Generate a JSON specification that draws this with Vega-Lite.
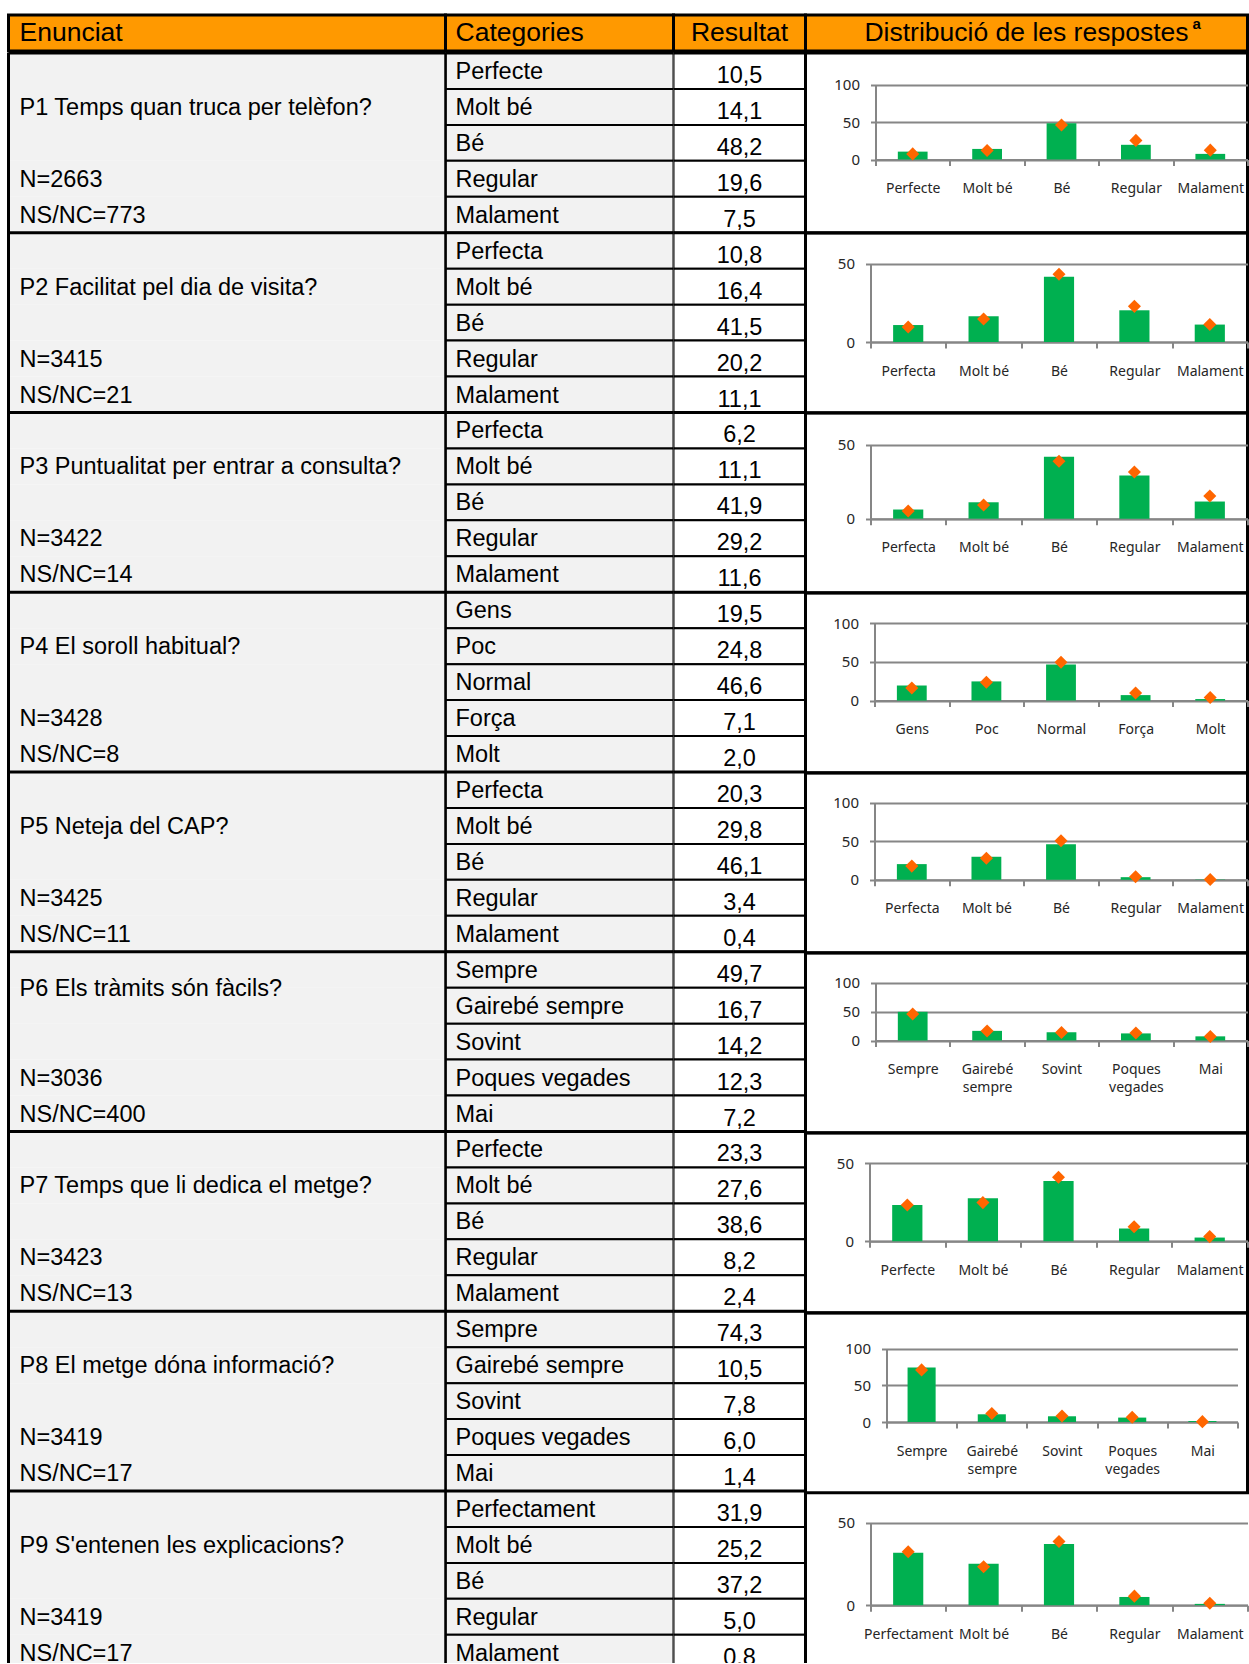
{
  "$schema": "https://vega.github.io/schema/vega-lite/v6.json",
  "background": "white",
  "padding": {"left": 6.5, "top": 13, "right": 0, "bottom": 0},
  "spacing": -3,
  "bounds": "full",
  "datasets": {
    "rows": [
      {"q":"P1","pos":1,"row":1,"cat":"Perfecte","val":10.5,"ref":7.5,"left":""},
      {"q":"P1","pos":2,"row":2,"cat":"Molt bé","val":14.1,"ref":12.0,"left":"P1 Temps quan truca per telèfon?"},
      {"q":"P1","pos":3,"row":3,"cat":"Bé","val":48.2,"ref":46.0,"left":""},
      {"q":"P1","pos":4,"row":4,"cat":"Regular","val":19.6,"ref":25.5,"left":"N=2663"},
      {"q":"P1","pos":5,"row":5,"cat":"Malament","val":7.5,"ref":12.5,"left":"NS/NC=773"},
      {"q":"P2","pos":1,"row":6,"cat":"Perfecta","val":10.8,"ref":9.5,"left":""},
      {"q":"P2","pos":2,"row":7,"cat":"Molt bé","val":16.4,"ref":14.6,"left":"P2 Facilitat pel dia de visita?"},
      {"q":"P2","pos":3,"row":8,"cat":"Bé","val":41.5,"ref":43.2,"left":""},
      {"q":"P2","pos":4,"row":9,"cat":"Regular","val":20.2,"ref":22.7,"left":"N=3415"},
      {"q":"P2","pos":5,"row":10,"cat":"Malament","val":11.1,"ref":11.2,"left":"NS/NC=21"},
      {"q":"P3","pos":1,"row":11,"cat":"Perfecta","val":6.2,"ref":5.2,"left":""},
      {"q":"P3","pos":2,"row":12,"cat":"Molt bé","val":11.1,"ref":9.2,"left":"P3 Puntualitat per entrar a consulta?"},
      {"q":"P3","pos":3,"row":13,"cat":"Bé","val":41.9,"ref":38.8,"left":""},
      {"q":"P3","pos":4,"row":14,"cat":"Regular","val":29.2,"ref":31.6,"left":"N=3422"},
      {"q":"P3","pos":5,"row":15,"cat":"Malament","val":11.6,"ref":15.4,"left":"NS/NC=14"},
      {"q":"P4","pos":1,"row":16,"cat":"Gens","val":19.5,"ref":16.2,"left":""},
      {"q":"P4","pos":2,"row":17,"cat":"Poc","val":24.8,"ref":23.6,"left":"P4 El soroll habitual?"},
      {"q":"P4","pos":3,"row":18,"cat":"Normal","val":46.6,"ref":49.5,"left":""},
      {"q":"P4","pos":4,"row":19,"cat":"Força","val":7.1,"ref":9.8,"left":"N=3428"},
      {"q":"P4","pos":5,"row":20,"cat":"Molt","val":2.0,"ref":3.9,"left":"NS/NC=8"},
      {"q":"P5","pos":1,"row":21,"cat":"Perfecta","val":20.3,"ref":17.7,"left":""},
      {"q":"P5","pos":2,"row":22,"cat":"Molt bé","val":29.8,"ref":28.0,"left":"P5 Neteja del CAP?"},
      {"q":"P5","pos":3,"row":23,"cat":"Bé","val":46.1,"ref":50.4,"left":""},
      {"q":"P5","pos":4,"row":24,"cat":"Regular","val":3.4,"ref":3.9,"left":"N=3425"},
      {"q":"P5","pos":5,"row":25,"cat":"Malament","val":0.4,"ref":0.4,"left":"NS/NC=11"},
      {"q":"P6","pos":1,"row":26,"cat":"Sempre","val":49.7,"ref":46.0,"left":"P6 Els tràmits són fàcils?"},
      {"q":"P6","pos":2,"row":27,"cat":"Gairebé sempre","val":16.7,"ref":16.5,"left":""},
      {"q":"P6","pos":3,"row":28,"cat":"Sovint","val":14.2,"ref":14.0,"left":""},
      {"q":"P6","pos":4,"row":29,"cat":"Poques vegades","val":12.3,"ref":13.0,"left":"N=3036"},
      {"q":"P6","pos":5,"row":30,"cat":"Mai","val":7.2,"ref":7.0,"left":"NS/NC=400"},
      {"q":"P7","pos":1,"row":31,"cat":"Perfecte","val":23.3,"ref":23.3,"left":""},
      {"q":"P7","pos":2,"row":32,"cat":"Molt bé","val":27.6,"ref":24.8,"left":"P7 Temps que li dedica el metge?"},
      {"q":"P7","pos":3,"row":33,"cat":"Bé","val":38.6,"ref":41.0,"left":""},
      {"q":"P7","pos":4,"row":34,"cat":"Regular","val":8.2,"ref":9.3,"left":"N=3423"},
      {"q":"P7","pos":5,"row":35,"cat":"Malament","val":2.4,"ref":3.0,"left":"NS/NC=13"},
      {"q":"P8","pos":1,"row":36,"cat":"Sempre","val":74.3,"ref":71.0,"left":""},
      {"q":"P8","pos":2,"row":37,"cat":"Gairebé sempre","val":10.5,"ref":11.5,"left":"P8 El metge dóna informació?"},
      {"q":"P8","pos":3,"row":38,"cat":"Sovint","val":7.8,"ref":8.3,"left":""},
      {"q":"P8","pos":4,"row":39,"cat":"Poques vegades","val":6.0,"ref":6.5,"left":"N=3419"},
      {"q":"P8","pos":5,"row":40,"cat":"Mai","val":1.4,"ref":0.5,"left":"NS/NC=17"},
      {"q":"P9","pos":1,"row":41,"cat":"Perfectament","val":31.9,"ref":32.4,"left":""},
      {"q":"P9","pos":2,"row":42,"cat":"Molt bé","val":25.2,"ref":23.3,"left":"P9 S'entenen les explicacions?"},
      {"q":"P9","pos":3,"row":43,"cat":"Bé","val":37.2,"ref":38.7,"left":""},
      {"q":"P9","pos":4,"row":44,"cat":"Regular","val":5.0,"ref":5.5,"left":"N=3419"},
      {"q":"P9","pos":5,"row":45,"cat":"Malament","val":0.8,"ref":1.2,"left":"NS/NC=17"}
    ]
  },
  "vconcat": [
    {
      "spacing": 0,
      "bounds": "flush",
      "hconcat": [
        {
          "width": 437, "height": 36,
          "view": {"fill": "#FF9900", "stroke": "black", "strokeWidth": 3},
          "data": {"values": [{"h": "Enunciat"}]},
          "mark": {"type": "text", "fontSize": 26.5, "align": "left", "dx": 11, "dy": 0},
          "encoding": {
            "text": {"field": "h"},
            "x": {"datum": 0, "type": "quantitative", "scale": {"domain": [0, 1]}, "axis": null}
          }
        },
        {
          "width": 228, "height": 36,
          "view": {"fill": "#FF9900", "stroke": "black", "strokeWidth": 3},
          "data": {"values": [{"h": "Categories"}]},
          "mark": {"type": "text", "fontSize": 26.5, "align": "left", "dx": 10, "dy": 0},
          "encoding": {
            "text": {"field": "h"},
            "x": {"datum": 0, "type": "quantitative", "scale": {"domain": [0, 1]}, "axis": null}
          }
        },
        {
          "width": 132, "height": 36,
          "view": {"fill": "#FF9900", "stroke": "black", "strokeWidth": 3},
          "data": {"values": [{"h": "Resultat"}]},
          "mark": {"type": "text", "fontSize": 26.5, "align": "center", "dy": 0},
          "encoding": {"text": {"field": "h"}}
        },
        {
          "width": 442, "height": 36,
          "view": {"fill": "#FF9900", "stroke": "black", "strokeWidth": 3},
          "data": {"values": [{"h": "Distribució de les respostes", "s": "a"}]},
          "layer": [
            {"mark": {"type": "text", "fontSize": 26.5, "align": "center", "dy": 0}, "encoding": {"text": {"field": "h"}}},
            {"mark": {"type": "text", "fontSize": 15, "fontWeight": "bold", "align": "left", "dx": 166, "dy": -9}, "encoding": {"text": {"field": "s"}}}
          ]
        }
      ]
    },
    {
      "spacing": 0,
      "bounds": "flush",
      "hconcat": [
        {
          "width": 437, "height": 1610,
          "data": {"name": "rows"},
          "layer": [
            {
              "mark": {"type": "rect", "fill": "#F2F2F2", "clip": true},
              "encoding": {"y": {"field": "row", "type": "ordinal", "scale": {"range": [0, 1617.75], "paddingInner": 0, "paddingOuter": 0}, "axis": null}}
            },
            {
              "transform": [{"filter": "datum.pos == 1"}],
              "mark": {"type": "rule", "color": "black", "strokeWidth": 3},
              "encoding": {"y": {"field": "row", "type": "ordinal", "bandPosition": 0, "scale": {"range": [0, 1617.75], "paddingInner": 0, "paddingOuter": 0}, "axis": null}}
            },
            {
              "transform": [{"filter": "datum.pos != 1"}],
              "mark": {"type": "text", "align": "left", "dx": 11, "dy": 1, "fontSize": 23.5, "clip": true},
              "encoding": {
                "y": {"field": "row", "type": "ordinal", "scale": {"range": [0, 1617.75], "paddingInner": 0, "paddingOuter": 0}, "axis": null},
                "x": {"datum": 0, "type": "quantitative", "scale": {"domain": [0, 1]}, "axis": null},
                "text": {"field": "left"}
              }
            },
            {
              "transform": [{"filter": "datum.pos == 1"}],
              "mark": {"type": "text", "align": "left", "dx": 11, "dy": 19, "fontSize": 23.5, "clip": true},
              "encoding": {
                "y": {"field": "row", "type": "ordinal", "scale": {"range": [0, 1617.75], "paddingInner": 0, "paddingOuter": 0}, "axis": null},
                "x": {"datum": 0, "type": "quantitative", "scale": {"domain": [0, 1]}, "axis": null},
                "text": {"field": "left"}
              }
            },
            {
              "data": {"values": [{"edge": 0}]},
              "mark": {"type": "rule", "color": "black", "strokeWidth": 3},
              "encoding": {"x": {"field": "edge", "type": "quantitative", "scale": {"domain": [0, 1]}, "axis": null}}
            }
          ]
        },
        {
          "width": 228, "height": 1610,
          "data": {"name": "rows"},
          "layer": [
            {
              "mark": {"type": "rect", "fill": "#F2F2F2", "stroke": "black", "strokeWidth": 2, "clip": true},
              "encoding": {"y": {"field": "row", "type": "ordinal", "scale": {"range": [0, 1617.75], "paddingInner": 0, "paddingOuter": 0}, "axis": null}}
            },
            {
              "transform": [{"filter": "datum.pos == 1"}],
              "mark": {"type": "rule", "color": "black", "strokeWidth": 3},
              "encoding": {"y": {"field": "row", "type": "ordinal", "bandPosition": 0, "scale": {"range": [0, 1617.75], "paddingInner": 0, "paddingOuter": 0}, "axis": null}}
            },
            {
              "mark": {"type": "text", "align": "left", "dx": 10, "dy": 1, "fontSize": 23.5, "clip": true},
              "encoding": {
                "y": {"field": "row", "type": "ordinal", "scale": {"range": [0, 1617.75], "paddingInner": 0, "paddingOuter": 0}, "axis": null},
                "x": {"datum": 0, "type": "quantitative", "scale": {"domain": [0, 1]}, "axis": null},
                "text": {"field": "cat"}
              }
            },
            {
              "data": {"values": [{"edge": 0}]},
              "mark": {"type": "rule", "color": "black", "strokeWidth": 2.5},
              "encoding": {"x": {"field": "edge", "type": "quantitative", "scale": {"domain": [0, 1]}, "axis": null}}
            }
          ]
        },
        {
          "width": 132, "height": 1610,
          "data": {"name": "rows"},
          "layer": [
            {
              "mark": {"type": "rect", "fill": "white", "stroke": "black", "strokeWidth": 2, "clip": true},
              "encoding": {"y": {"field": "row", "type": "ordinal", "scale": {"range": [0, 1617.75], "paddingInner": 0, "paddingOuter": 0}, "axis": null}}
            },
            {
              "transform": [{"filter": "datum.pos == 1"}],
              "mark": {"type": "rule", "color": "black", "strokeWidth": 3},
              "encoding": {"y": {"field": "row", "type": "ordinal", "bandPosition": 0, "scale": {"range": [0, 1617.75], "paddingInner": 0, "paddingOuter": 0}, "axis": null}}
            },
            {
              "mark": {"type": "text", "align": "center", "dy": 5, "fontSize": 23.5, "clip": true},
              "encoding": {
                "y": {"field": "row", "type": "ordinal", "scale": {"range": [0, 1617.75], "paddingInner": 0, "paddingOuter": 0}, "axis": null},
                "text": {"field": "val", "type": "quantitative", "format": ".1f"}
              }
            },
            {
              "data": {"values": [{"edge": 1}]},
              "mark": {"type": "rule", "color": "black", "strokeWidth": 3},
              "encoding": {"x": {"field": "edge", "type": "quantitative", "scale": {"domain": [0, 1]}, "axis": null}}
            }
          ]
        },
        {
          "spacing": 0,
          "bounds": "flush",
          "vconcat": [
            {
              "width": 442, "height": 179.75,
              "view": {"stroke": "black", "strokeWidth": 3},
              "data": {"name": "rows"},
              "transform": [{"filter": "datum.q == 'P1'"}],
              "encoding": {"x": {"field": "cat", "type": "nominal", "sort": null, "scale": {"range": [70, 442], "paddingInner": 0, "paddingOuter": 0}, "axis": {"title": null, "offset": -73.25}}},
              "layer": [
                {"mark": {"type": "bar", "color": "#00B050", "width": {"band": 0.4}}, "encoding": {"y": {"field": "val", "type": "quantitative", "scale": {"domain": [0, 100], "range": [106.5, 31.5], "nice": false}, "axis": {"title": null, "offset": -70, "values": [0, 50, 100]}}}},
                {"mark": {"type": "point", "shape": "diamond", "filled": true, "color": "#FF6600", "size": 170, "opacity": 1}, "encoding": {"y": {"field": "ref", "type": "quantitative", "scale": {"domain": [0, 100], "range": [106.5, 31.5], "nice": false}, "axis": {"title": null, "offset": -70, "values": [0, 50, 100]}}}}
              ]
            },
            {
              "width": 442, "height": 179.75,
              "view": {"stroke": "black", "strokeWidth": 3},
              "data": {"name": "rows"},
              "transform": [{"filter": "datum.q == 'P2'"}],
              "encoding": {"x": {"field": "cat", "type": "nominal", "sort": null, "scale": {"range": [65, 442], "paddingInner": 0, "paddingOuter": 0}, "axis": {"title": null, "offset": -70.75}}},
              "layer": [
                {"mark": {"type": "bar", "color": "#00B050", "width": {"band": 0.4}}, "encoding": {"y": {"field": "val", "type": "quantitative", "scale": {"domain": [0, 50], "range": [109, 30.5], "nice": false}, "axis": {"title": null, "offset": -65, "values": [0, 50]}}}},
                {"mark": {"type": "point", "shape": "diamond", "filled": true, "color": "#FF6600", "size": 170, "opacity": 1}, "encoding": {"y": {"field": "ref", "type": "quantitative", "scale": {"domain": [0, 50], "range": [109, 30.5], "nice": false}, "axis": {"title": null, "offset": -65, "values": [0, 50]}}}}
              ]
            },
            {
              "width": 442, "height": 179.75,
              "view": {"stroke": "black", "strokeWidth": 3},
              "data": {"name": "rows"},
              "transform": [{"filter": "datum.q == 'P3'"}],
              "encoding": {"x": {"field": "cat", "type": "nominal", "sort": null, "scale": {"range": [65, 442], "paddingInner": 0, "paddingOuter": 0}, "axis": {"title": null, "offset": -74.05}}},
              "layer": [
                {"mark": {"type": "bar", "color": "#00B050", "width": {"band": 0.4}}, "encoding": {"y": {"field": "val", "type": "quantitative", "scale": {"domain": [0, 50], "range": [105.7, 31.7], "nice": false}, "axis": {"title": null, "offset": -65, "values": [0, 50]}}}},
                {"mark": {"type": "point", "shape": "diamond", "filled": true, "color": "#FF6600", "size": 170, "opacity": 1}, "encoding": {"y": {"field": "ref", "type": "quantitative", "scale": {"domain": [0, 50], "range": [105.7, 31.7], "nice": false}, "axis": {"title": null, "offset": -65, "values": [0, 50]}}}}
              ]
            },
            {
              "width": 442, "height": 179.75,
              "view": {"stroke": "black", "strokeWidth": 3},
              "data": {"name": "rows"},
              "transform": [{"filter": "datum.q == 'P4'"}],
              "encoding": {"x": {"field": "cat", "type": "nominal", "sort": null, "scale": {"range": [69, 442], "paddingInner": 0, "paddingOuter": 0}, "axis": {"title": null, "offset": -72.15}}},
              "layer": [
                {"mark": {"type": "bar", "color": "#00B050", "width": {"band": 0.4}}, "encoding": {"y": {"field": "val", "type": "quantitative", "scale": {"domain": [0, 100], "range": [107.6, 30.2], "nice": false}, "axis": {"title": null, "offset": -69, "values": [0, 50, 100]}}}},
                {"mark": {"type": "point", "shape": "diamond", "filled": true, "color": "#FF6600", "size": 170, "opacity": 1}, "encoding": {"y": {"field": "ref", "type": "quantitative", "scale": {"domain": [0, 100], "range": [107.6, 30.2], "nice": false}, "axis": {"title": null, "offset": -69, "values": [0, 50, 100]}}}}
              ]
            },
            {
              "width": 442, "height": 179.75,
              "view": {"stroke": "black", "strokeWidth": 3},
              "data": {"name": "rows"},
              "transform": [{"filter": "datum.q == 'P5'"}],
              "encoding": {"x": {"field": "cat", "type": "nominal", "sort": null, "scale": {"range": [69, 442], "paddingInner": 0, "paddingOuter": 0}, "axis": {"title": null, "offset": -72.95}}},
              "layer": [
                {"mark": {"type": "bar", "color": "#00B050", "width": {"band": 0.4}}, "encoding": {"y": {"field": "val", "type": "quantitative", "scale": {"domain": [0, 100], "range": [106.8, 29.5], "nice": false}, "axis": {"title": null, "offset": -69, "values": [0, 50, 100]}}}},
                {"mark": {"type": "point", "shape": "diamond", "filled": true, "color": "#FF6600", "size": 170, "opacity": 1}, "encoding": {"y": {"field": "ref", "type": "quantitative", "scale": {"domain": [0, 100], "range": [106.8, 29.5], "nice": false}, "axis": {"title": null, "offset": -69, "values": [0, 50, 100]}}}}
              ]
            },
            {
              "width": 442, "height": 179.75,
              "view": {"stroke": "black", "strokeWidth": 3},
              "data": {"name": "rows"},
              "transform": [{"filter": "datum.q == 'P6'"}],
              "encoding": {"x": {"field": "cat", "type": "nominal", "sort": null, "scale": {"range": [70, 442], "paddingInner": 0, "paddingOuter": 0}, "axis": {"title": null, "offset": -92.25, "labelExpr": "split(datum.label, ' ')", "labelLineHeight": 18}}},
              "layer": [
                {"mark": {"type": "bar", "color": "#00B050", "width": {"band": 0.4}}, "encoding": {"y": {"field": "val", "type": "quantitative", "scale": {"domain": [0, 100], "range": [87.5, 29.8], "nice": false}, "axis": {"title": null, "offset": -70, "values": [0, 50, 100]}}}},
                {"mark": {"type": "point", "shape": "diamond", "filled": true, "color": "#FF6600", "size": 170, "opacity": 1}, "encoding": {"y": {"field": "ref", "type": "quantitative", "scale": {"domain": [0, 100], "range": [87.5, 29.8], "nice": false}, "axis": {"title": null, "offset": -70, "values": [0, 50, 100]}}}}
              ]
            },
            {
              "width": 442, "height": 179.75,
              "view": {"stroke": "black", "strokeWidth": 3},
              "data": {"name": "rows"},
              "transform": [{"filter": "datum.q == 'P7'"}],
              "encoding": {"x": {"field": "cat", "type": "nominal", "sort": null, "scale": {"range": [64, 442], "paddingInner": 0, "paddingOuter": 0}, "axis": {"title": null, "offset": -71.45}}},
              "layer": [
                {"mark": {"type": "bar", "color": "#00B050", "width": {"band": 0.4}}, "encoding": {"y": {"field": "val", "type": "quantitative", "scale": {"domain": [0, 50], "range": [108.3, 30.3], "nice": false}, "axis": {"title": null, "offset": -64, "values": [0, 50]}}}},
                {"mark": {"type": "point", "shape": "diamond", "filled": true, "color": "#FF6600", "size": 170, "opacity": 1}, "encoding": {"y": {"field": "ref", "type": "quantitative", "scale": {"domain": [0, 50], "range": [108.3, 30.3], "nice": false}, "axis": {"title": null, "offset": -64, "values": [0, 50]}}}}
              ]
            },
            {
              "width": 442, "height": 179.75,
              "view": {"stroke": "black", "strokeWidth": 3},
              "data": {"name": "rows"},
              "transform": [{"filter": "datum.q == 'P8'"}],
              "encoding": {"x": {"field": "cat", "type": "nominal", "sort": null, "scale": {"range": [81, 432], "paddingInner": 0, "paddingOuter": 0}, "axis": {"title": null, "offset": -70.75, "labelExpr": "split(datum.label, ' ')", "labelLineHeight": 18}}},
              "layer": [
                {"mark": {"type": "bar", "color": "#00B050", "width": {"band": 0.4}}, "encoding": {"y": {"field": "val", "type": "quantitative", "scale": {"domain": [0, 100], "range": [109, 35.6], "nice": false}, "axis": {"title": null, "offset": -81, "values": [0, 50, 100]}}}},
                {"mark": {"type": "point", "shape": "diamond", "filled": true, "color": "#FF6600", "size": 170, "opacity": 1}, "encoding": {"y": {"field": "ref", "type": "quantitative", "scale": {"domain": [0, 100], "range": [109, 35.6], "nice": false}, "axis": {"title": null, "offset": -81, "values": [0, 50, 100]}}}}
              ]
            },
            {
              "width": 442, "height": 172,
              "view": {"stroke": null},
              "data": {"name": "rows"},
              "transform": [{"filter": "datum.q == 'P9'"}],
              "encoding": {"x": {"field": "cat", "type": "nominal", "sort": null, "scale": {"range": [65, 442], "paddingInner": 0, "paddingOuter": 0}, "axis": {"title": null, "offset": -59.8}}},
              "layer": [
                {"mark": {"type": "bar", "color": "#00B050", "width": {"band": 0.4}}, "encoding": {"y": {"field": "val", "type": "quantitative", "scale": {"domain": [0, 50], "range": [112.2, 29.8], "nice": false}, "axis": {"title": null, "offset": -65, "values": [0, 50]}}}},
                {"mark": {"type": "point", "shape": "diamond", "filled": true, "color": "#FF6600", "size": 170, "opacity": 1}, "encoding": {"y": {"field": "ref", "type": "quantitative", "scale": {"domain": [0, 50], "range": [112.2, 29.8], "nice": false}, "axis": {"title": null, "offset": -65, "values": [0, 50]}}}}
              ]
            }
          ]
        }
      ]
    }
  ],
  "config": {
    "font": "Liberation Sans",
    "view": {"stroke": null},
    "text": {"fontSize": 23.5, "color": "black"},
    "locale": {"number": {"decimal": ",", "thousands": ".", "grouping": [3], "currency": ["", " €"]}},
    "axis": {
      "domainColor": "#868686", "domainWidth": 2,
      "tickColor": "#868686", "tickWidth": 2,
      "gridColor": "#868686", "gridWidth": 2,
      "labelFont": "Noto Sans", "labelColor": "#262626"
    },
    "axisX": {"labelAngle": 0, "labelFontSize": 14, "labelPadding": 16, "labelOverlap": false, "tickBand": "extent", "tickSize": 6, "grid": false, "labelLimit": 200},
    "axisY": {"labelFontSize": 15, "labelPadding": 11, "tickSize": 5, "grid": true}
  }
}
